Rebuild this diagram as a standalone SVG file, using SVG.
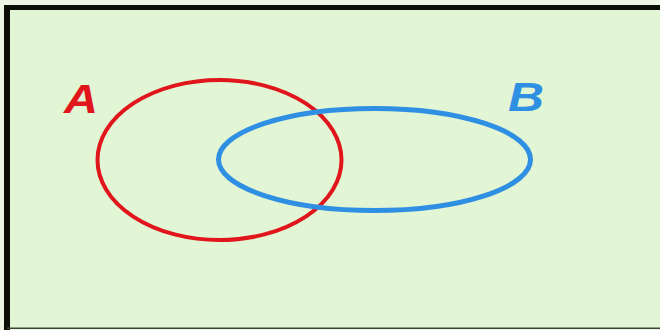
<svg xmlns="http://www.w3.org/2000/svg" width="660" height="330" viewBox="0 0 660 330">
<style>
.lbl{font-family:"Liberation Sans","DejaVu Sans",sans-serif;font-weight:bold;font-style:italic;font-size:40px}
.set{fill:none}
</style>
<rect x="0" y="0" width="660" height="330" fill="#edf6e5"/>
<rect x="7" y="7" width="653" height="321" fill="#e2f5d4"/>
<rect x="4" y="5" width="656" height="5" fill="#0b0f08"/>
<rect x="4" y="5" width="6" height="325" fill="#0b0f08"/>
<rect x="7" y="327.5" width="653" height="1.5" fill="#3a4435"/>
<g id="setA">
<ellipse class="set" cx="219.5" cy="160" rx="122" ry="80" stroke="#e0161c" stroke-width="4"/>
<text class="lbl" x="64" y="113" fill="#e0161c" textLength="34" lengthAdjust="spacingAndGlyphs">A</text>
</g>
<g id="setB">
<ellipse class="set" cx="374.5" cy="159.5" rx="156" ry="51" stroke="#2f8fe2" stroke-width="5"/>
<text class="lbl" x="508" y="111" fill="#2f8fe2" textLength="36" lengthAdjust="spacingAndGlyphs">B</text>
</g>
<g id="connectors"/>
</svg>
